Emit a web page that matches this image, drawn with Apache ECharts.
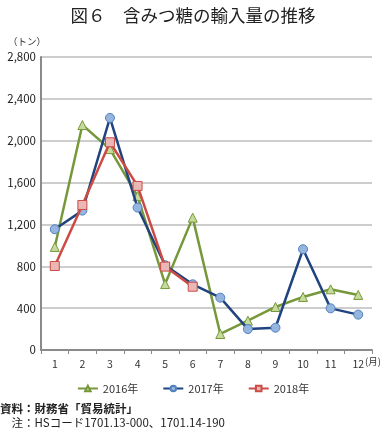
<!DOCTYPE html>
<html><head><meta charset="utf-8">
<script src="https://cdn.jsdelivr.net/npm/echarts@6/dist/echarts.min.js"></script>
<style>html,body{margin:0;padding:0;background:#fff}#c{width:386px;height:430px}</style>
</head><body><div id="c"></div>
<script>
var months = ['1','2','3','4','5','6','7','8','9','10','11','12'];
var yTicks = [0,400,800,1200,1600,2000,2400,2800];
var s2016 = [985, 2150, 1920, 1470, 630, 1265, 153, 280, 411, 507, 580, 526];
var s2017 = [1154, 1332, 2218, 1361, 810, 628, 500, 200, 213, 963, 398, 338];
var s2018 = [803, 1386, 1985, 1568, 797, 605];
var F = '"Noto Sans CJK JP", "Noto Sans", sans-serif';
var chart = echarts.init(document.getElementById('c'));
chart.setOption({
  animation:false,
  textStyle:{fontFamily:F},
  title:{text:'図６　含みつ糖の輸入量の推移', left:'center', top:2,
    textStyle:{fontSize:17.5, fontWeight:'normal', color:'#222', fontFamily:F}},
  grid:{left:41, right:14, top:57, bottom:80},
  legend:{bottom:31, left:'center', itemGap:24, itemWidth:20, itemHeight:7,
    textStyle:{fontSize:11, color:'#333', fontFamily:F},
    data:['2016年','2017年','2018年']},
  xAxis:{type:'category', data:months, boundaryGap:true,
    axisLine:{lineStyle:{color:'#8a8a8a', width:2}},
    axisTick:{show:true, length:4, lineStyle:{color:'#8a8a8a'}},
    axisLabel:{fontSize:10.5, color:'#333', margin:9}},
  yAxis:{type:'value', min:yTicks[0], max:yTicks[yTicks.length-1], interval:400,
    axisLine:{show:true, lineStyle:{color:'#8a8a8a', width:2}},
    axisTick:{show:false},
    splitLine:{lineStyle:{color:'#bdbdbd', width:1.5}},
    axisLabel:{fontSize:11.5, color:'#222', margin:5,
      formatter:function(v){return v.toLocaleString('en-US');}}},
  graphic:[
    {type:'text', left:8, top:37, style:{text:'（トン）', fontSize:9.5, fill:'#333', fontFamily:F}},
    {type:'text', left:365, top:357, style:{text:'(月)', fontSize:9.5, fill:'#333', fontFamily:F}},
    {type:'text', left:0, top:403, style:{text:'資料：財務省「貿易統計」', fontSize:11.5, fontWeight:'bold', fill:'#222', fontFamily:F}},
    {type:'text', left:0, top:417, style:{text:'　注：HSコード1701.13-000、1701.14-190', fontSize:11.5, fill:'#222', fontFamily:F}}
  ],
  series:[
    {name:'2016年', type:'line', data:s2016, symbol:'triangle', symbolSize:9,
      lineStyle:{color:'#77983a', width:2.5}, itemStyle:{color:'#c6da9c', borderColor:'#77983a', borderWidth:1}, z:2},
    {name:'2017年', type:'line', data:s2017, symbol:'circle', symbolSize:9,
      lineStyle:{color:'#21437f', width:2.5}, itemStyle:{color:'#95b5de', borderColor:'#4f81bd', borderWidth:1}, z:3},
    {name:'2018年', type:'line', data:s2018, symbol:'rect', symbolSize:9,
      lineStyle:{color:'#cc4b45', width:2.5}, itemStyle:{color:'#eab7b4', borderColor:'#cc4b45', borderWidth:1}, z:4}
  ]
});
</script></body></html>
